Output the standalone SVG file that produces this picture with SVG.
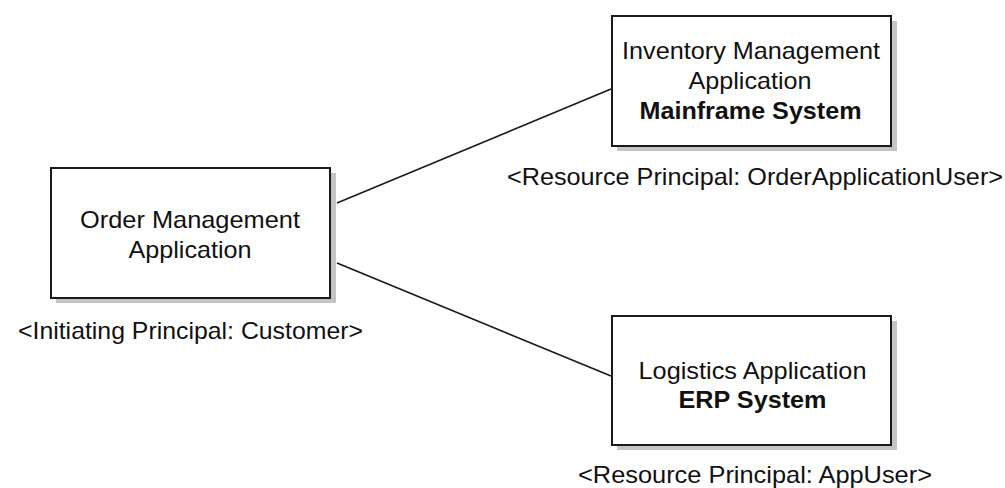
<svg xmlns="http://www.w3.org/2000/svg" width="1005" height="488" viewBox="0 0 1005 488">
<style>
.shadow{fill:#c4c4c4;stroke:none}
.box{fill:#fff;stroke:#1a1a1a;stroke-width:2}
text{font-family:"Liberation Sans",Arial,sans-serif;font-size:24px;fill:#111;text-anchor:middle}
.b{font-weight:bold}
.conn{stroke:#1a1a1a;stroke-width:1.6;fill:none}
</style>
<rect width="1005" height="488" fill="#fff"/>
<g id="connectors">
<line class="conn" x1="337" y1="203" x2="611" y2="89"/>
<line class="conn" x1="337" y1="263" x2="611" y2="376"/>
</g>
<g id="order-management">
<rect class="shadow" x="56" y="173" width="280" height="130"/>
<rect class="box" x="51" y="168" width="279" height="130"/>
<text x="190" y="228" textLength="220" lengthAdjust="spacingAndGlyphs">Order Management</text>
<text x="190" y="258" textLength="123" lengthAdjust="spacingAndGlyphs">Application</text>
<text x="190.5" y="339" textLength="345" lengthAdjust="spacingAndGlyphs">&lt;Initiating Principal: Customer&gt;</text>
</g>
<g id="inventory-management">
<rect class="shadow" x="617" y="21" width="280" height="130"/>
<rect class="box" x="612" y="16" width="279" height="130"/>
<text x="751" y="59" textLength="258" lengthAdjust="spacingAndGlyphs">Inventory Management</text>
<text x="750" y="89" textLength="123" lengthAdjust="spacingAndGlyphs">Application</text>
<text class="b" x="750.5" y="119" textLength="222" lengthAdjust="spacingAndGlyphs">Mainframe System</text>
<text x="755" y="185" textLength="496" lengthAdjust="spacingAndGlyphs">&lt;Resource Principal: OrderApplicationUser&gt;</text>
</g>
<g id="logistics">
<rect class="shadow" x="617" y="321" width="280" height="129"/>
<rect class="box" x="612" y="316" width="279" height="129"/>
<text x="752.5" y="379" textLength="228" lengthAdjust="spacingAndGlyphs">Logistics Application</text>
<text class="b" x="752.5" y="408" textLength="148" lengthAdjust="spacingAndGlyphs">ERP System</text>
<text x="755" y="483" textLength="354" lengthAdjust="spacingAndGlyphs">&lt;Resource Principal: AppUser&gt;</text>
</g>
</svg>
